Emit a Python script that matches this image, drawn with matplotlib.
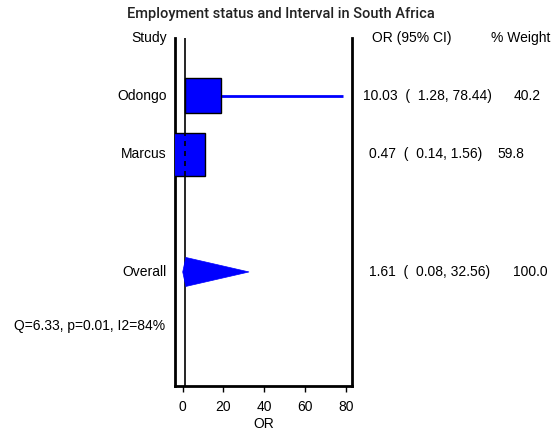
import numpy as np
import matplotlib.pyplot as plt
from matplotlib.patches import Rectangle, Polygon

# -----------------------------
# DATA
# -----------------------------
studies = ["Odongo", "Marcus"]
odds = [10.03, 0.47]
lower = [1.28, 0.14]
upper = [78.44, 1.56]
weights = [40.2, 59.8]
rows = [1, 2]

pooled_or = 1.61
pooled_low = 0.08
pooled_high = 32.56
pooled_weight = 100.0
pooled_row = 4

het_text = "Q=6.33, p=0.01, I2=84%"
title = "Employment status and Interval in South Africa"
xticks = [0, 20, 40, 60, 80]

# -----------------------------
# FIGURE
# -----------------------------
plt.rcParams['font.family'] = ['Liberation Sans', 'DejaVu Sans']
W, H = 559, 438
fig = plt.figure(figsize=(W / 100, H / 100), dpi=100)
ax_l, ax_r, ax_b, ax_t = 175, 352, 386, 38
ax = fig.add_axes([ax_l / W, 1 - ax_b / H, (ax_r - ax_l) / W, (ax_b - ax_t) / H])
ax.set_xlim(-3.7, 83)
ax.set_ylim(5.94, 0.02)

px_x = (ax_r - ax_l) / (83 + 3.7)     # pixels per OR unit
px_y = (ax_b - ax_t) / (5.94 - 0.02)  # pixels per row
blue = "#0000ff"

# null line
ax.axvline(1, color="black", lw=1.2, zorder=1)

for r, o, lo, hi, w in zip(rows, odds, lower, upper, weights):
    ax.plot([lo, hi], [r, r], color=blue, lw=2, zorder=2, solid_capstyle="butt")
    side = 5.54 * np.sqrt(w)  # square box, area ~ weight
    bw, bh = side / px_x, side / px_y
    box = Rectangle((o - bw / 2, r - bh / 2), bw, bh, facecolor=blue,
                    edgecolor="black", lw=1, zorder=3)
    ax.add_patch(box)
    # null line shows dashed where it crosses a box
    dash = ax.axvline(1, color="black", lw=1.2, ls=(0, (3, 3)), zorder=4)
    dash.set_clip_path(box)

dh = 14.5 / px_y
ax.add_patch(Polygon([(pooled_low, pooled_row), (pooled_or, pooled_row - dh),
                      (pooled_high, pooled_row), (pooled_or, pooled_row + dh)],
                     closed=True, facecolor=blue, edgecolor=blue, lw=0.5, zorder=5))

for s in ["left", "right", "bottom"]:
    ax.spines[s].set_linewidth(2)
ax.spines["top"].set_visible(False)
ax.set_yticks([])
ax.set_xticks(xticks)
ax.tick_params(axis="x", labelsize=10, length=4, width=1, pad=6)
ax.set_xlabel("OR", fontsize=10, labelpad=2)

# -----------------------------
# TEXT COLUMNS
# -----------------------------
fs = 10
def ftxt(x, y, s, ha="left", **kw):
    fig.text(x / W, 1 - y / H, s, ha=ha, va="center", fontsize=fs, **kw)

fig.text(281 / W, 1 - 14 / H, title, ha="center", va="center", fontsize=10.5,
         family=["Roboto", "DejaVu Sans"], fontweight="medium", color="#222222")
ftxt(167, 38, "Study", ha="right")
ftxt(372, 38, "OR (95% CI)")
ftxt(491, 38, "% Weight")

ycoord = lambda r: ax_t + (r - 0.02) * px_y
ci_x = [363, 369]
wt_x = [514, 497]
for r, name, o, lo, hi, w, cx, wx in zip(rows, studies, odds, lower, upper, weights, ci_x, wt_x):
    ftxt(167, ycoord(r), name, ha="right")
    ftxt(cx, ycoord(r), f"{o:.2f}  (  {lo:.2f}, {hi:.2f})")
    ftxt(wx, ycoord(r), f"{w:.1f}")

ftxt(167, ycoord(pooled_row), "Overall", ha="right")
ftxt(369, ycoord(pooled_row), f"{pooled_or:.2f}  (  {pooled_low:.2f}, {pooled_high:.2f})")
ftxt(513, ycoord(pooled_row), f"{pooled_weight:.1f}")
ftxt(14, 326, het_text)

fig.savefig("out.png", dpi=100)
